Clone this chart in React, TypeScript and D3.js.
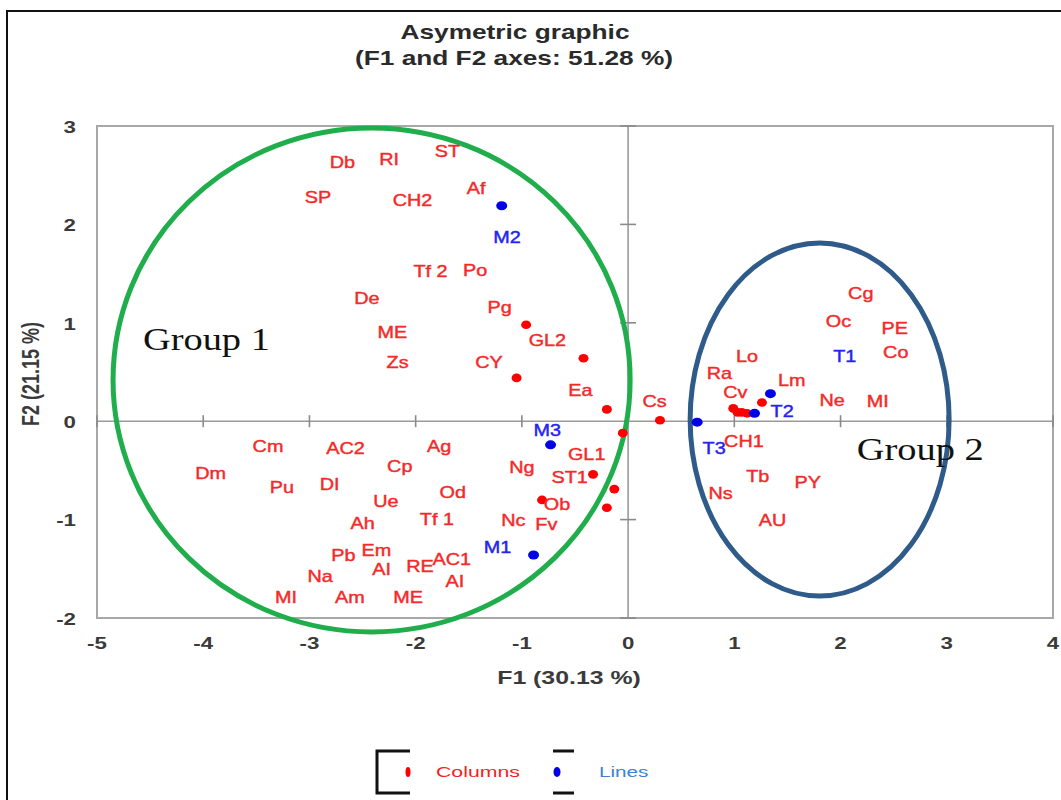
import React from "react";
import * as d3 from "d3";

const width = 1061;
const height = 800;

const xTicks = [-5, -4, -3, -2, -1, 0, 1, 2, 3, 4];
const yTicks = [-2, -1, 0, 1, 2, 3];

// label text, F1, F2 (label positions)
const columnLabels: [string, number, number][] = [
  ["Db", -2.69, 2.63], ["RI", -2.25, 2.66], ["ST", -1.7, 2.74], ["SP", -2.92, 2.27],
  ["CH2", -2.03, 2.24], ["Af", -1.43, 2.36], ["Tf 2", -1.86, 1.52], ["Po", -1.44, 1.53],
  ["De", -2.46, 1.25], ["Pg", -1.21, 1.15], ["ME", -2.22, 0.9], ["GL2", -0.76, 0.82],
  ["Zs", -2.17, 0.59], ["CY", -1.31, 0.59], ["Ea", -0.45, 0.31], ["Cs", 0.25, 0.2],
  ["Cm", -3.39, -0.26], ["AC2", -2.66, -0.28], ["Ag", -1.78, -0.26], ["Dm", -3.93, -0.53],
  ["Cp", -2.15, -0.46], ["Pu", -3.26, -0.68], ["DI", -2.81, -0.65], ["Ng", -1.0, -0.47],
  ["GL1", -0.39, -0.34], ["ST1", -0.55, -0.57], ["Ue", -2.28, -0.82], ["Od", -1.65, -0.73],
  ["Ob", -0.67, -0.85], ["Ah", -2.5, -1.04], ["Tf 1", -1.8, -1.0], ["Nc", -1.08, -1.01],
  ["Fv", -0.77, -1.05], ["Pb", -2.68, -1.37], ["Em", -2.37, -1.32], ["AI", -2.32, -1.51],
  ["RE", -1.96, -1.48], ["AC1", -1.66, -1.41], ["Na", -2.9, -1.58], ["AI", -1.63, -1.63],
  ["MI", -3.22, -1.79], ["Am", -2.62, -1.79], ["ME", -2.07, -1.79],
  ["Cg", 2.19, 1.3], ["Oc", 1.98, 1.01], ["PE", 2.51, 0.94], ["Co", 2.52, 0.7],
  ["Lo", 1.12, 0.66], ["Ra", 0.86, 0.48], ["Lm", 1.54, 0.41], ["Cv", 1.01, 0.29],
  ["Ne", 1.92, 0.21], ["MI", 2.35, 0.2], ["CH1", 1.09, -0.21], ["Tb", 1.22, -0.56],
  ["PY", 1.69, -0.62], ["Ns", 0.87, -0.74], ["AU", 1.36, -1.01],
];

const lineLabels: [string, number, number][] = [
  ["M2", -1.14, 1.87], ["M3", -0.76, -0.1], ["M1", -1.23, -1.29],
  ["T1", 2.04, 0.66], ["T2", 1.45, 0.1], ["T3", 0.81, -0.28],
];

// visible markers
const columnPoints: [number, number][] = [
  [-0.96, 0.98], [-0.42, 0.64], [-1.05, 0.44], [-0.2, 0.12], [0.3, 0.01],
  [-0.05, -0.12], [-0.33, -0.54], [-0.13, -0.69], [-0.81, -0.8], [-0.2, -0.88],
  [0.99, 0.13], [1.03, 0.09], [1.07, 0.09], [1.12, 0.08], [1.26, 0.19],
];

const linePoints: [number, number][] = [
  [-1.19, 2.19], [-0.73, -0.24], [-0.89, -1.36], [0.65, -0.01], [1.34, 0.28], [1.19, 0.08],
];

// group ellipses: name, centre F1, centre F2, radius F1, radius F2
const groups: [string, number, number, number, number][] = [
  ["Group 1", -2.415, 0.419, 2.434, 2.561],
  ["Group 2", 1.803, 0.017, 1.219, 1.794],
];
const groupText: [string, number, number][] = [
  ["Group 1", -3.97, 0.83],
  ["Group 2", 2.75, -0.29],
];
const groupColors = ["#1fae4b", "#2f5b8a"];

const red = "#f42a2a";
const blue = "#2323f2";

const SText = ({ x, y, sx, children, ...rest }: any) => (
  <text transform={`translate(${x},${y}) scale(${sx},1)`} {...rest}>
    {children}
  </text>
);

const App = () => {
  const x = d3.scaleLinear().domain([-5, 4]).range([97, 1053]);
  const y = d3.scaleLinear().domain([-2, 3]).range([618, 126]);
  const sans = "'Liberation Sans', Arial, sans-serif";

  return (
    <svg
      width={width}
      height={height}
      style={{ position: "absolute", left: 0, top: 0, background: "#fff" }}
    >
      <rect x={7} y={11} width={1060} height={800} fill="#fff" stroke="#111" strokeWidth={2} />

      {/* titles */}
      <SText x={515} y={31} sx={1.25} textAnchor="middle" dominantBaseline="central"
        fontFamily={sans} fontWeight="bold" fontSize={21} fill="#2a2a2a">
        Asymetric graphic
      </SText>
      <SText x={514} y={57} sx={1.25} textAnchor="middle" dominantBaseline="central"
        fontFamily={sans} fontWeight="bold" fontSize={21} fill="#2a2a2a">
        (F1 and F2 axes: 51.28 %)
      </SText>

      {/* plot box */}
      <rect x={x(-5)} y={y(3)} width={x(4) - x(-5)} height={y(-2) - y(3)}
        fill="none" stroke="#a8a8a8" strokeWidth={2} />

      {/* zero axes */}
      <line x1={x(-5)} x2={x(4)} y1={y(0)} y2={y(0)} stroke="#9a9a9a" strokeWidth={1.6} />
      <line x1={x(0)} x2={x(0)} y1={y(3)} y2={y(-2)} stroke="#9a9a9a" strokeWidth={1.6} />
      {xTicks.filter((t) => t !== 0).map((t) => (
        <line key={"xt" + t} x1={x(t)} x2={x(t)} y1={y(0) - 6} y2={y(0) + 6}
          stroke="#8a8a8a" strokeWidth={1.6} />
      ))}
      {yTicks.filter((t) => t !== 0).map((t) => (
        <line key={"yt" + t} x1={x(0) - 8} x2={x(0) + 8} y1={y(t)} y2={y(t)}
          stroke="#8a8a8a" strokeWidth={1.6} />
      ))}

      {/* tick labels */}
      {xTicks.map((t) => (
        <SText key={"xl" + t} x={x(t)} y={643} sx={1.35} textAnchor="middle"
          dominantBaseline="central" fontFamily={sans} fontWeight="bold" fontSize={16.5} fill="#3a3a3a">
          {t}
        </SText>
      ))}
      {yTicks.map((t) => (
        <SText key={"yl" + t} x={76} y={y(t) + 1} sx={1.35} textAnchor="end"
          dominantBaseline="central" fontFamily={sans} fontWeight="bold" fontSize={16.5} fill="#3a3a3a">
          {t}
        </SText>
      ))}

      {/* axis titles */}
      <SText x={569} y={678} sx={1.38} textAnchor="middle" dominantBaseline="central"
        fontFamily={sans} fontWeight="bold" fontSize={18} fill="#3a3a3a">
        F1 (30.13 %)
      </SText>
      <text transform={`translate(31,374) scale(1.3,1) rotate(-90)`} textAnchor="middle"
        dominantBaseline="central" fontFamily={sans} fontWeight="bold" fontSize={18} fill="#3a3a3a">
        F2 (21.15 %)
      </text>

      {/* group ellipses */}
      {groups.map(([name, cx, cy, rx, ry], i) => (
        <ellipse key={name} cx={x(cx)} cy={y(cy)} rx={x(rx) - x(0)} ry={y(0) - y(ry)}
          fill="none" stroke={groupColors[i]} strokeWidth={5} />
      ))}

      {/* markers */}
      {columnPoints.map(([a, b], i) => (
        <ellipse key={"cp" + i} cx={x(a)} cy={y(b)} rx={5} ry={4.3} fill="#f00" />
      ))}
      {linePoints.map(([a, b], i) => (
        <ellipse key={"lp" + i} cx={x(a)} cy={y(b)} rx={5.5} ry={4.5} fill="#0000e6" />
      ))}

      {/* labels */}
      {columnLabels.map(([name, a, b], i) => (
        <SText key={"cl" + i} x={x(a)} y={y(b)} sx={1.24} textAnchor="middle"
          dominantBaseline="central" fontFamily={sans} fontSize={16} fill={red}
          stroke={red} strokeWidth={0.4}>
          {name}
        </SText>
      ))}
      {lineLabels.map(([name, a, b], i) => (
        <SText key={"ll" + i} x={x(a)} y={y(b)} sx={1.24} textAnchor="middle"
          dominantBaseline="central" fontFamily={sans} fontSize={16} fill={blue}
          stroke={blue} strokeWidth={0.4}>
          {name}
        </SText>
      ))}

      {groupText.map(([name, a, b]) => (
        <SText key={"gt" + name} x={x(a)} y={y(b)} sx={1.2} textAnchor="middle"
          dominantBaseline="central" fontFamily="'Liberation Serif', 'Times New Roman', serif"
          fontSize={32} fill="#111">
          {name}
        </SText>
      ))}

      {/* legend */}
      <path d="M410,751 H377 V793 H410" fill="none" stroke="#111" strokeWidth={3} />
      <line x1={553} x2={574} y1={751} y2={751} stroke="#111" strokeWidth={3} />
      <line x1={553} x2={574} y1={793} y2={793} stroke="#111" strokeWidth={3} />
      <ellipse cx={408} cy={772} rx={2.5} ry={5} fill="#f00" />
      <SText x={436} y={772} sx={1.42} dominantBaseline="central" fontFamily={sans}
        fontSize={15} fill="#f41f1f">
        Columns
      </SText>
      <ellipse cx={557} cy={772} rx={3.5} ry={5} fill="#0000e6" />
      <SText x={599} y={772} sx={1.38} dominantBaseline="central" fontFamily={sans}
        fontSize={15} fill="#3d82d6">
        Lines
      </SText>
    </svg>
  );
};

export default App;
